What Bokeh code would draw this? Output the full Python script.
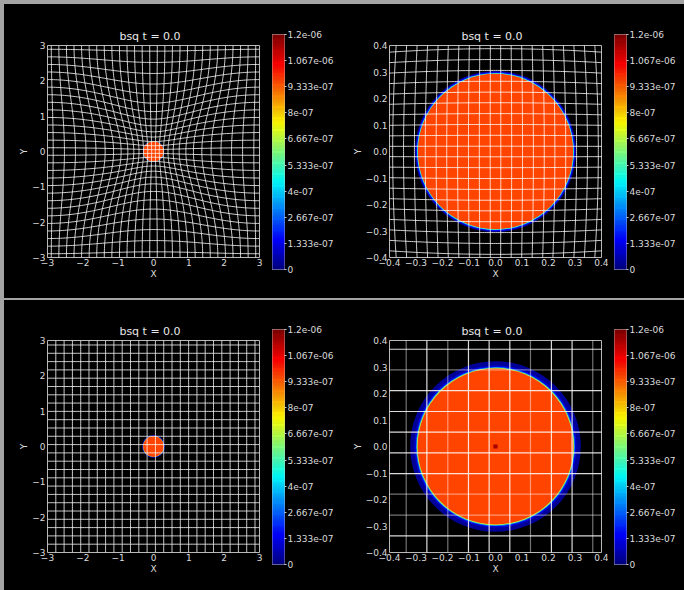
import numpy as np
from bokeh.plotting import figure
from bokeh.models import ColumnDataSource, FixedTicker, Spacer
from bokeh.layouts import row, column
from bokeh.transform import linear_cmap
from bokeh.embed import file_html
from bokeh.resources import INLINE

# ---------------- data ----------------
TITLE = "bsq  t =  0.0"
V_LOW, V_HIGH = 0.0, 1.2e-6
CBAR_TICKS = [0.0, 1.333e-07, 2.667e-07, 4e-07, 5.333e-07, 6.667e-07, 8e-07, 9.333e-07, 1.067e-06, 1.2e-06]
CBAR_LABELS = ["0", "1.333e-07", "2.667e-07", "4e-07", "5.333e-07", "6.667e-07",
               "8e-07", "9.333e-07", "1.067e-06", "1.2e-06"]

WIDE_TICKS = [-3, -2, -1, 0, 1, 2, 3]
WIDE_LABELS = ["−3", "−2", "−1", "0", "1", "2", "3"]
ZOOM_TICKS = [-0.4, -0.3, -0.2, -0.1, 0.0, 0.1, 0.2, 0.3, 0.4]
ZOOM_LABELS = ["−0.4", "−0.3", "−0.2", "−0.1", "0.0", "0.1", "0.2", "0.3", "0.4"]

# field: disk made of nested rings (outer radius, value)
TOP_RING_R = [0.304, 0.300, 0.296, 0.293]
TOP_RING_V = [3e-08, 1.6e-07, 5.0e-07, 9.7e-07]
BOT_RING_R = [0.322, 0.306, 0.300, 0.297, 0.294]
BOT_RING_V = [3e-08, 1.1e-07, 3.0e-07, 6.5e-07, 9.7e-07]
BOT_CORE_SIZE = [0.016]
BOT_CORE_V = [1.15e-06]

# meshes
TL_LINES = [-2.893, -2.679, -2.464, -2.250, -2.036, -1.821, -1.607, -1.393, -1.179, -0.964,
            -0.750, -0.536, -0.321, -0.107, 0.107, 0.321, 0.536, 0.750, 0.964, 1.179,
            1.393, 1.607, 1.821, 2.036, 2.250, 2.464, 2.679, 2.893]
TL_WARP = 0.48
TR_LINES = [-0.388, -0.347, -0.306, -0.265, -0.224, -0.184, -0.143, -0.102, -0.061, -0.020,
            0.020, 0.061, 0.102, 0.143, 0.184, 0.224, 0.265, 0.306, 0.347, 0.388]
TR_BARREL = 0.2
BL_LINES = [-2.765, -2.530, -2.295, -2.060, -1.826, -1.591, -1.356, -1.121, -0.886, -0.651,
            -0.416, -0.181, 0.054, 0.289, 0.524, 0.759, 0.994, 1.229, 1.463, 1.698,
            1.933, 2.168, 2.403, 2.638, 2.873]
BR_LINES = [-0.337, -0.259, -0.180, -0.102, -0.024, 0.054, 0.132, 0.211, 0.289, 0.367]
BR_DIM_X = [True, False, True, False, False, False, True, False, False, True]
BR_DIM_Y = [False, True, True, False, False, False, False, False, True, False]

# ---------------- helpers ----------------
def jet(t):
    r = np.clip(np.minimum(4 * t - 1.5, -4 * t + 4.5), 0, 1)
    g = np.clip(np.minimum(4 * t - 0.5, -4 * t + 3.5), 0, 1)
    b = np.clip(np.minimum(4 * t + 0.5, -4 * t + 2.5), 0, 1)
    return "#%02x%02x%02x" % (int(round(r * 255)), int(round(g * 255)), int(round(b * 255)))

PALETTE = [jet(i / 255.0) for i in range(256)]
FONT = "DejaVu Sans"
TXT = "#dcdcdc"
FRAME = "#b8b8b8"
GRAY = "#a4a4a4"
BLACK_BG = {"background-color": "black"}
GRAY_BG = {"background-color": GRAY}


def cmap(field):
    return linear_cmap(field, PALETTE, V_LOW, V_HIGH)


def main_fig(width, height, left, top, lim, ticks, labels):
    p = figure(width=width, height=height, x_range=(-lim, lim), y_range=(-lim, lim),
               output_backend="svg", toolbar_location=None,
               min_border_left=left, min_border_right=width - left - 212,
               min_border_top=top, min_border_bottom=height - top - 212,
               background_fill_color="black", border_fill_color="black",
               outline_line_color=FRAME, outline_line_width=1, title=TITLE)
    p.frame_align = False
    p.grid.visible = False
    p.title.align = "center"
    p.title.text_color = "#e8e8e8"
    p.title.text_font = FONT
    p.title.text_font_size = "11px"
    p.title.text_font_style = "normal"
    p.title.standoff = 5
    for ax, lab in ((p.xaxis, "X"), (p.yaxis, "Y")):
        ax.ticker = FixedTicker(ticks=ticks)
        ax.major_label_overrides = dict(zip(ticks, labels))
        ax.axis_label = lab
        ax.axis_line_color = None
        ax.major_tick_line_color = None
        ax.minor_tick_line_color = None
        ax.major_tick_out = 0
        ax.major_tick_in = 0
        ax.major_label_standoff = 2
        ax.axis_label_standoff = 0
        ax.major_label_text_font = FONT
        ax.major_label_text_font_size = "9px"
        ax.major_label_text_color = TXT
        ax.axis_label_text_font = FONT
        ax.axis_label_text_font_size = "9px"
        ax.axis_label_text_color = TXT
        ax.axis_label_text_font_style = "normal"
    p.xaxis.major_label_standoff = 1
    return p


def cbar_fig(width, height, left, top):
    p = figure(width=width, height=height, x_range=(0, 1), y_range=(V_LOW, V_HIGH),
               output_backend="svg", toolbar_location=None, y_axis_location="right",
               min_border_left=left, min_border_right=width - left - 12,
               min_border_top=top, min_border_bottom=height - top - 235,
               background_fill_color="black", border_fill_color="black",
               outline_line_color="#c8c8c8", outline_line_width=1)
    p.frame_align = False
    p.grid.visible = False
    p.xaxis.visible = False
    edges = np.linspace(V_LOW, V_HIGH, 257)
    src = ColumnDataSource(dict(b=edges[:-1], t=edges[1:], m=0.5 * (edges[:-1] + edges[1:])))
    p.quad(left=0, right=1, bottom="b", top="t", source=src,
           fill_color=cmap("m"), line_color=cmap("m"), line_width=0.6)
    ax = p.yaxis
    ax.ticker = FixedTicker(ticks=CBAR_TICKS)
    ax.major_label_overrides = dict(zip(CBAR_TICKS, CBAR_LABELS))
    ax.axis_line_color = None
    ax.major_tick_line_color = "#c8c8c8"
    ax.major_tick_in = 0
    ax.major_tick_out = 2
    ax.minor_tick_line_color = None
    ax.major_label_standoff = 1
    ax.major_label_text_font = FONT
    ax.major_label_text_font_size = "9px"
    ax.major_label_text_color = TXT
    return p


def add_disk(p, radii, values):
    src = ColumnDataSource(dict(x=[0.0] * len(radii), y=[0.0] * len(radii), r=radii, v=values))
    p.circle(x="x", y="y", radius="r", source=src, fill_color=cmap("v"), line_color=None)


def add_core(p):
    src = ColumnDataSource(dict(x=[0.0], y=[0.0], s=BOT_CORE_SIZE, v=BOT_CORE_V))
    p.rect(x="x", y="y", width="s", height="s", source=src, fill_color=cmap("v"), line_color=None)


def warp(xi, eta):
    x = xi - TL_WARP * np.sin(np.pi * xi / 3) * np.cos(np.pi * eta / 6) ** 2
    y = eta - TL_WARP * np.sin(np.pi * eta / 3) * np.cos(np.pi * xi / 6) ** 2
    return x, y


def barrel(X, Y):
    return X * (1 - TR_BARREL * Y ** 2), Y * (1 - TR_BARREL * X ** 2)


def mesh(lines, lo, hi, fn):
    s = np.linspace(lo, hi, 121)
    xs, ys = [], []
    for c in lines:
        x, y = fn(np.full_like(s, c), s)
        xs.append(list(x)); ys.append(list(y))
        x, y = fn(s, np.full_like(s, c))
        xs.append(list(x)); ys.append(list(y))
    return xs, ys

# ---------------- panels ----------------
TOP_H, BOT_H = 294, 290

tl = main_fig(262, TOP_H, 43, 41, 3, WIDE_TICKS, WIDE_LABELS)
add_disk(tl, TOP_RING_R, TOP_RING_V)
xs, ys = mesh(TL_LINES, -3, 3, warp)
tl.multi_line(xs, ys, line_color="white", line_alpha=0.8, line_width=1)
tlc = cbar_fig(76, TOP_H, 6, 30)

tr = main_fig(266, TOP_H, 47, 41, 0.4, ZOOM_TICKS, ZOOM_LABELS)
add_disk(tr, TOP_RING_R, TOP_RING_V)
xs, ys = mesh(TR_LINES, -0.5, 0.5, barrel)
tr.multi_line(xs, ys, line_color="white", line_alpha=0.8, line_width=1)
trc = cbar_fig(76, TOP_H, 6, 30)

bl = main_fig(262, BOT_H, 43, 40, 3, WIDE_TICKS, WIDE_LABELS)
add_disk(bl, BOT_RING_R, BOT_RING_V)
add_core(bl)
xs, ys = mesh(BL_LINES, -3, 3, lambda a, b: (a, b))
bl.multi_line(xs, ys, line_color="white", line_alpha=0.8, line_width=1)
blc = cbar_fig(76, BOT_H, 6, 29)

br = main_fig(266, BOT_H, 47, 40, 0.4, ZOOM_TICKS, ZOOM_LABELS)
add_disk(br, BOT_RING_R, BOT_RING_V)
add_core(br)
s = [-0.5, 0.5]
br_src_v = ColumnDataSource(dict(xs=[[c, c] for c in BR_LINES], ys=[s] * len(BR_LINES),
                                 a=[0.45 if d else 0.85 for d in BR_DIM_X]))
br_src_h = ColumnDataSource(dict(xs=[s] * len(BR_LINES), ys=[[c, c] for c in BR_LINES],
                                 a=[0.45 if d else 0.85 for d in BR_DIM_Y]))
br.multi_line(xs="xs", ys="ys", source=br_src_v, line_color="white", line_alpha="a", line_width=1.2)
br.multi_line(xs="xs", ys="ys", source=br_src_h, line_color="white", line_alpha="a", line_width=1.2)
brc = cbar_fig(76, BOT_H, 6, 29)

top_row = row(Spacer(width=4, height=TOP_H), row(tl, tlc, tr, trc, styles=BLACK_BG), styles=GRAY_BG)
bot_row = row(Spacer(width=4, height=BOT_H), row(bl, blc, br, brc, styles=BLACK_BG), styles=GRAY_BG)
layout = column(Spacer(width=684, height=4), top_row, Spacer(width=684, height=2), bot_row,
                styles=GRAY_BG)

open("out.html", "w").write(file_html(layout, INLINE))
